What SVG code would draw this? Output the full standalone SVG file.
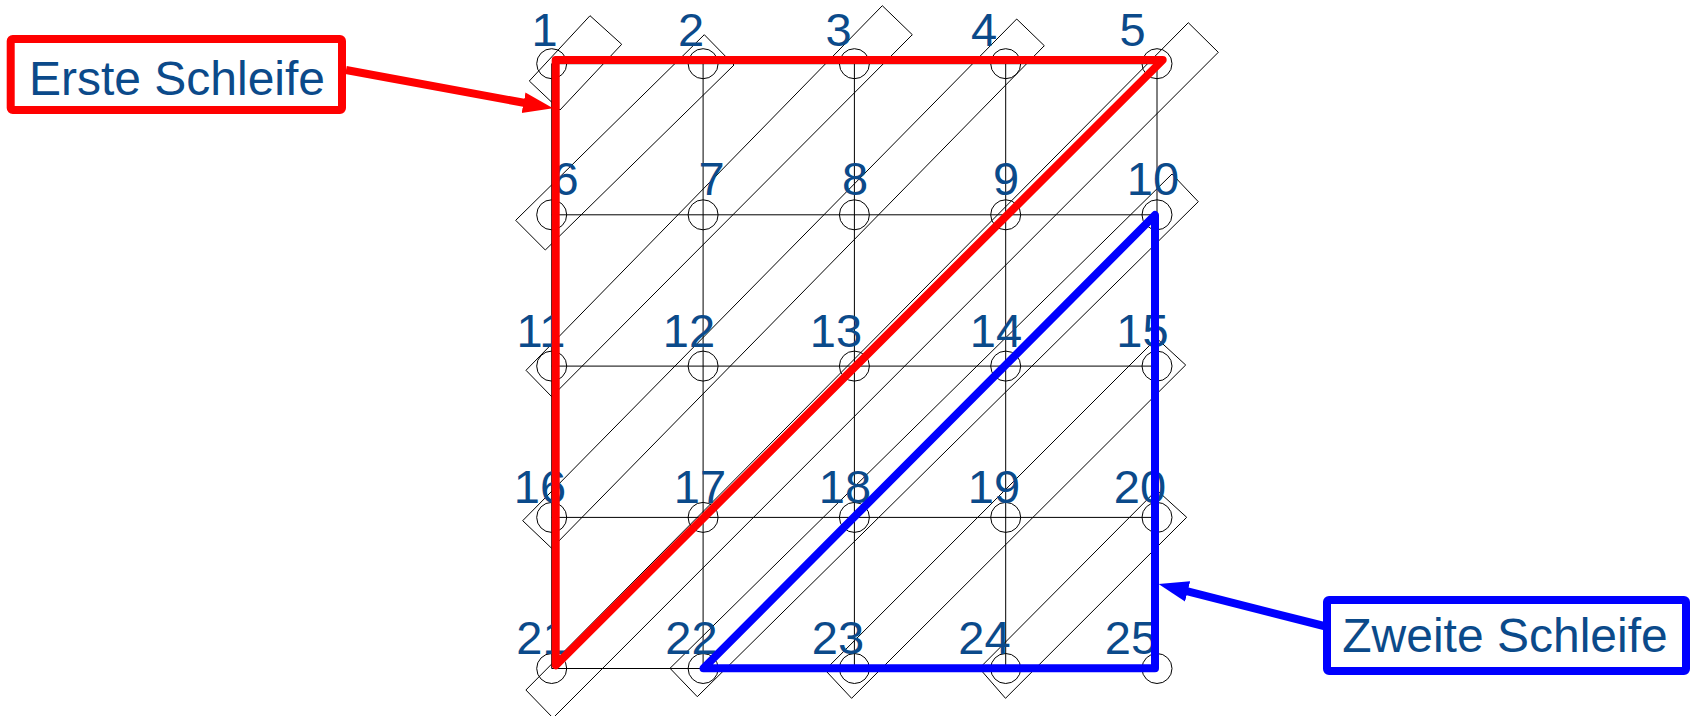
<svg xmlns="http://www.w3.org/2000/svg" width="1692" height="716" viewBox="0 0 1692 716">
<style>
.diag{fill:none;stroke:#000;stroke-width:1}
.grid{stroke:#000;stroke-width:1;fill:none}
.node circle{fill:none;stroke:#000;stroke-width:1}
.lbl{font-family:"Liberation Sans",Arial,sans-serif;font-size:47px;fill:#0b4a8a;text-anchor:middle}
.btxt{font-family:"Liberation Sans",Arial,sans-serif;font-size:48px;fill:#0b4a8a;text-anchor:middle}
.loopR{fill:none;stroke:#ff0000;stroke-width:8;stroke-linejoin:round}
.loopB{fill:none;stroke:#0000ff;stroke-width:8;stroke-linejoin:round}
.boxR{fill:#fff;stroke:#ff0000;stroke-width:8}
.boxB{fill:#fff;stroke:#0000ff;stroke-width:8}
</style>
<defs>
<marker id="arrR" markerUnits="userSpaceOnUse" markerWidth="32" markerHeight="24" refX="3" refY="12" orient="auto">
<path d="M0,1.5 L30,12 L0,22.5 z" fill="#ff0000"/>
</marker>
<marker id="arrB" markerUnits="userSpaceOnUse" markerWidth="32" markerHeight="24" refX="3" refY="12" orient="auto">
<path d="M0,1.5 L30,12 L0,22.5 z" fill="#0000ff"/>
</marker>
</defs>
<rect width="1692" height="716" fill="#fff"/>
<g id="diagonals">
<polygon class="diag" points="590,15.7 621.7,44.3 560,110 529.3,81"/>
<polygon class="diag" points="704.3,34.7 734,65 545.3,250 515.7,220.3"/>
<polygon class="diag" points="882.3,5.7 912.3,34.7 551.7,396.7 526,370.3"/>
<polygon class="diag" points="1016.7,19 1044.3,45.7 551.7,548.3 522.7,520.7"/>
<polygon class="diag" points="1188.3,22.7 1218.3,52.3 553,718 525.9,690"/>
<polygon class="diag" points="1172,174 1198.3,201.7 697.3,696.7 670,668.3"/>
<polygon class="diag" points="1156.7,338.3 1185.7,365 851.6,698.3 825.1,670"/>
<polygon class="diag" points="1156.7,490 1186.7,517.3 1005.5,698.3 979.4,668.3"/>
</g>
<g id="grid" class="grid">
<line x1="551.7" y1="63.7" x2="1157" y2="63.7"/>
<line x1="551.7" y1="214.8" x2="1157" y2="214.8"/>
<line x1="551.7" y1="366.1" x2="1157" y2="366.1"/>
<line x1="551.7" y1="517.4" x2="1157" y2="517.4"/>
<line x1="551.7" y1="668.5" x2="1157" y2="668.5"/>
<line x1="551.7" y1="63.7" x2="551.7" y2="668.5"/>
<line x1="703.1" y1="63.7" x2="703.1" y2="668.5"/>
<line x1="854.4" y1="63.7" x2="854.4" y2="668.5"/>
<line x1="1005.7" y1="63.7" x2="1005.7" y2="668.5"/>
<line x1="1157" y1="63.7" x2="1157" y2="668.5"/>
</g>
<g id="n1" class="node"><circle cx="551.7" cy="63.7" r="15"/><text class="lbl" x="544.5" y="46">1</text></g>
<g id="n2" class="node"><circle cx="703.1" cy="63.7" r="15"/><text class="lbl" x="691" y="46">2</text></g>
<g id="n3" class="node"><circle cx="854.4" cy="63.7" r="15"/><text class="lbl" x="838.5" y="46">3</text></g>
<g id="n4" class="node"><circle cx="1005.7" cy="63.7" r="15"/><text class="lbl" x="984" y="46">4</text></g>
<g id="n5" class="node"><circle cx="1157" cy="63.7" r="15"/><text class="lbl" x="1132.5" y="46">5</text></g>
<g id="n6" class="node"><circle cx="551.7" cy="214.8" r="15"/><text class="lbl" x="565.5" y="195">6</text></g>
<g id="n7" class="node"><circle cx="703.1" cy="214.8" r="15"/><text class="lbl" x="711.5" y="195">7</text></g>
<g id="n8" class="node"><circle cx="854.4" cy="214.8" r="15"/><text class="lbl" x="855" y="195">8</text></g>
<g id="n9" class="node"><circle cx="1005.7" cy="214.8" r="15"/><text class="lbl" x="1006" y="195">9</text></g>
<g id="n10" class="node"><circle cx="1157" cy="214.8" r="15"/><text class="lbl" x="1153" y="195">10</text></g>
<g id="n11" class="node"><circle cx="551.7" cy="366.1" r="15"/><text class="lbl" x="541" y="347">11</text></g>
<g id="n12" class="node"><circle cx="703.1" cy="366.1" r="15"/><text class="lbl" x="689" y="347">12</text></g>
<g id="n13" class="node"><circle cx="854.4" cy="366.1" r="15"/><text class="lbl" x="836" y="347">13</text></g>
<g id="n14" class="node"><circle cx="1005.7" cy="366.1" r="15"/><text class="lbl" x="996" y="347">14</text></g>
<g id="n15" class="node"><circle cx="1157" cy="366.1" r="15"/><text class="lbl" x="1142.5" y="347">15</text></g>
<g id="n16" class="node"><circle cx="551.7" cy="517.4" r="15"/><text class="lbl" x="540" y="503">16</text></g>
<g id="n17" class="node"><circle cx="703.1" cy="517.4" r="15"/><text class="lbl" x="700" y="503">17</text></g>
<g id="n18" class="node"><circle cx="854.4" cy="517.4" r="15"/><text class="lbl" x="845" y="503">18</text></g>
<g id="n19" class="node"><circle cx="1005.7" cy="517.4" r="15"/><text class="lbl" x="994" y="503">19</text></g>
<g id="n20" class="node"><circle cx="1157" cy="517.4" r="15"/><text class="lbl" x="1140" y="503">20</text></g>
<g id="n21" class="node"><circle cx="551.7" cy="668.5" r="15"/><text class="lbl" x="542.5" y="654">21</text></g>
<g id="n22" class="node"><circle cx="703.1" cy="668.5" r="15"/><text class="lbl" x="691.5" y="654">22</text></g>
<g id="n23" class="node"><circle cx="854.4" cy="668.5" r="15"/><text class="lbl" x="838" y="654">23</text></g>
<g id="n24" class="node"><circle cx="1005.7" cy="668.5" r="15"/><text class="lbl" x="984.5" y="654">24</text></g>
<g id="n25" class="node"><circle cx="1157" cy="668.5" r="15"/><text class="lbl" x="1131" y="654">25</text></g>
<g id="connectors">
<path class="loopR" d="M555.7,60 L1162.7,60 L555.7,665.3 Z"/>
<path class="loopB" d="M703.5,668.3 L1155,215 L1155,668.3 Z"/>
<line x1="346" y1="70" x2="526.5" y2="103.3" stroke="#ff0000" stroke-width="8" marker-end="url(#arrR)"/>
<line x1="1324" y1="626" x2="1184.7" y2="590.6" stroke="#0000ff" stroke-width="8" marker-end="url(#arrB)"/>
</g>
<g id="callout1">
<rect class="boxR" x="10.7" y="39" width="331.3" height="71" rx="2"/>
<text class="btxt" x="177" y="95">Erste Schleife</text>
</g>
<g id="callout2">
<rect class="boxB" x="1327" y="600" width="359" height="71" rx="2"/>
<text class="btxt" x="1505" y="651.5">Zweite Schleife</text>
</g>
</svg>
